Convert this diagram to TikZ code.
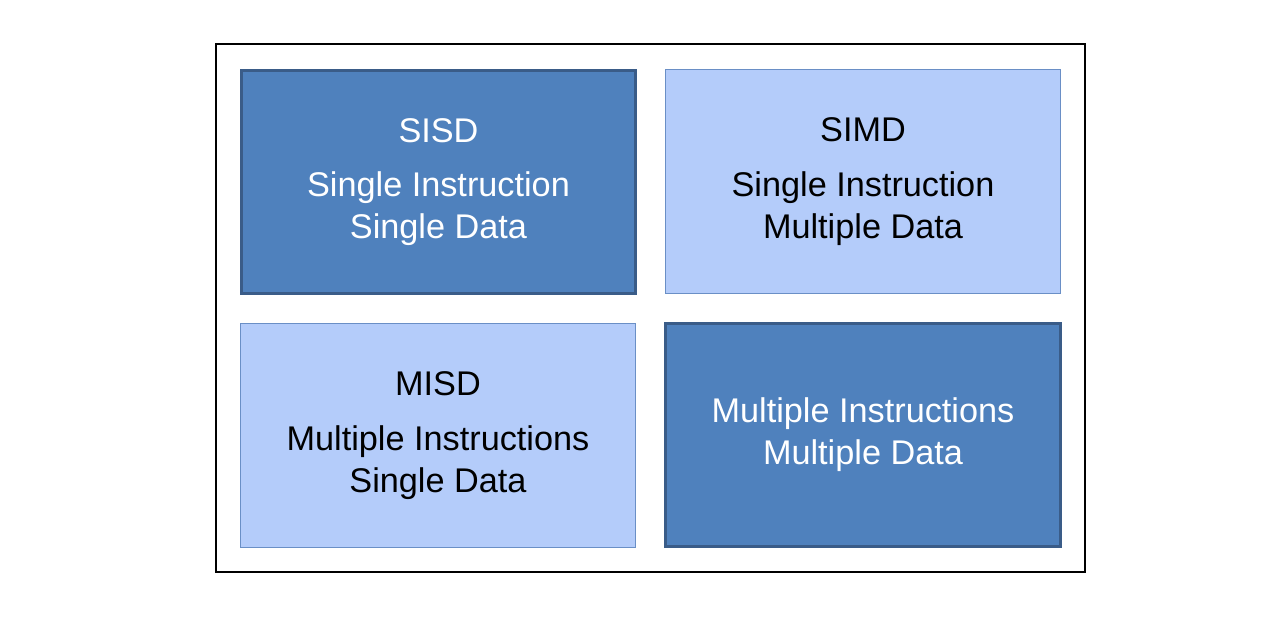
\documentclass[tikz,border=0pt]{standalone}
\usepackage{fontspec}
\setmainfont{Liberation Sans}
\usetikzlibrary{positioning}
\definecolor{darkfill}{HTML}{4F81BD}
\definecolor{darkedge}{HTML}{3A5C88}
\definecolor{lightfill}{HTML}{B4CCFA}
\definecolor{lightedge}{HTML}{6A8FC6}
\tikzset{quad/.style = {minimum width=7.9cm, minimum height=4.48cm,
                        align=center, inner sep=0pt,
                        font=\fontsize{19.5}{24}\selectfont},
         darkbox/.style = {quad, fill=darkfill, draw=darkedge,
                           line width=1.7pt, text=white},
         lightbox/.style = {quad, fill=lightfill, draw=lightedge,
                            line width=0.8pt, text=black}}

\begin{document}
\begin{tikzpicture}[x=0.02cm, y=-0.02cm]
    \useasboundingbox (0,0) rectangle (1276,626);
    \draw[line width=1.1pt] (216,44) rectangle (1085,572);

    \node[darkbox] (sisd) at (438.5,182) {SISD\\[7pt] Single Instruction\\ Single Data};
    \node[lightbox] (simd) at (863,181.5) {SIMD\\[7pt] Single Instruction\\ Multiple Data};
    \node[lightbox] (misd) at (438,435.5) {MISD\\[7pt] Multiple Instructions\\ Single Data};
    \node[darkbox] (mimd) at (863,435) {Multiple Instructions\\ Multiple Data};
  \end{tikzpicture}
\end{document}
